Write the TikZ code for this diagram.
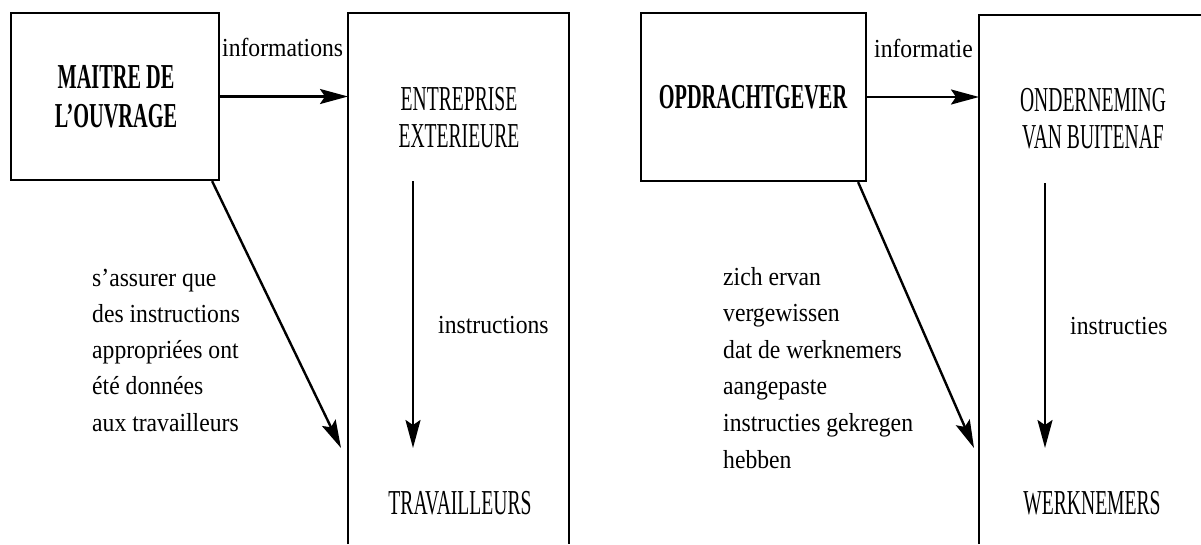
\documentclass[tikz,border=0pt]{standalone}
\usepackage{fontspec}
\setmainfont{Liberation Serif}
\newfontfamily\lowfont[FakeStretch=0.91]{Liberation Serif}
\newfontfamily\capsfont[FakeStretch=0.56]{Liberation Serif}
\newfontfamily\boldcapsfont[FakeStretch=0.58]{Liberation Serif Bold}
\usetikzlibrary{arrows.meta}
\begin{document}
\begin{tikzpicture}[x=1pt,y=-1pt,
  smalltxt/.style={font=\lowfont\fontsize{26}{36.5}\selectfont, inner sep=0pt},
  captxt/.style={font=\capsfont\fontsize{35}{38}\selectfont, inner sep=0pt},
  boldtxt/.style={font=\boldcapsfont\fontsize{35}{39}\selectfont, inner sep=0pt},
  sidebox/.style={draw, line width=2.2pt, inner sep=0pt},
  bigbox/.style={line width=1.6pt},
  flow/.style={line width=2.4pt, -{Stealth[length=28pt,width=15pt,inset=5pt]}}]
\useasboundingbox (0,0) rectangle (1201,544);
\fill[white] (0,0) rectangle (1201,544);

% ---------- left half ----------
\node[sidebox, minimum width=208pt, minimum height=167pt] (m1) at (115,96.5) {};
\node[boldtxt, anchor=base] (m1t) at (116,88)
  {\parbox[t]{200pt}{\centering\baselineskip=39pt MAITRE DE\\L’OUVRAGE}};
\coordinate (e1nw) at (348,13);
\draw[bigbox] (348,544) -- (e1nw) -- (569,13) -- (569,544);
\node[captxt, anchor=base] (e1t) at (459,110)
  {\parbox[t]{200pt}{\centering\baselineskip=37pt ENTREPRISE\\EXTERIEURE}};
\node[captxt, anchor=base] (w1) at (460,514) {TRAVAILLEURS};
\node[smalltxt, anchor=base west] (inf1) at (222,56) {informations};
\node[smalltxt, anchor=base west] (ins1) at (438,333) {instructions};
\node[smalltxt, anchor=base west] (txt1) at (92,286)
  {\parbox[t]{240pt}{\raggedright\baselineskip=36.3pt s’assurer que\\des instructions\\appropriées ont\\été données\\aux travailleurs}};
\coordinate (v1s) at (413,181);
\coordinate (v1e) at (413,448);
\coordinate (d1e) at (341,448);
\draw[flow] (m1.east) -- (m1.east -| e1nw);
\draw[flow] (v1s) -- (v1e);
\draw[flow] ([xshift=-8pt]m1.south east) -- (d1e);

% ---------- right half ----------
\node[sidebox, minimum width=225pt, minimum height=168pt] (m2) at (753.5,97) {};
\node[boldtxt, anchor=base] (m2t) at (753,108) {OPDRACHTGEVER};
\coordinate (e2nw) at (979,15);
\draw[bigbox] (979,544) -- (e2nw) -- (1201,15);
\node[captxt, anchor=base] (e2t) at (1093,111)
  {\parbox[t]{220pt}{\centering\baselineskip=37pt ONDERNEMING\\VAN BUITENAF}};
\node[captxt, anchor=base] (w2) at (1092,514) {WERKNEMERS};
\node[smalltxt, anchor=base west] (inf2) at (874,57) {informatie};
\node[smalltxt, anchor=base west] (ins2) at (1070,334) {instructies};
\node[smalltxt, anchor=base west] (txt2) at (723,285)
  {\parbox[t]{260pt}{\raggedright\baselineskip=36.6pt zich ervan\\vergewissen\\dat de werknemers\\aangepaste\\instructies gekregen\\hebben}};
\coordinate (v2s) at (1045,183);
\coordinate (v2e) at (1045,448);
\coordinate (d2e) at (974,448);
\draw[flow] (m2.east) -- (m2.east -| e2nw);
\draw[flow] (v2s) -- (v2e);
\draw[flow] ([xshift=-9pt]m2.south east) -- (d2e);
\end{tikzpicture}
\end{document}
